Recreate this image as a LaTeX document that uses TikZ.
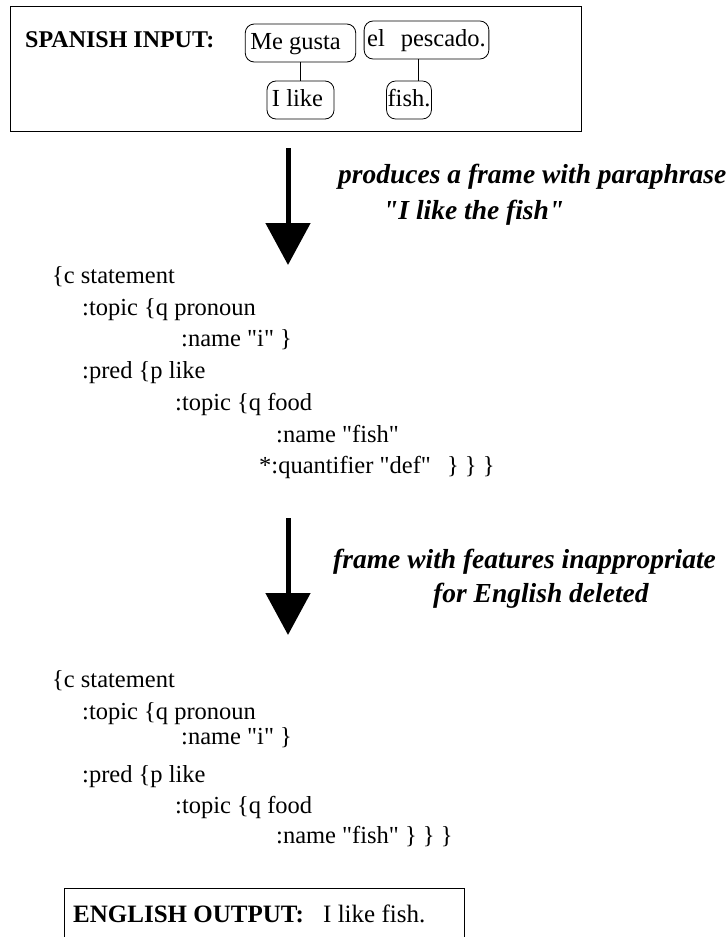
\documentclass[tikz,border=0pt]{standalone}
\usepackage{fontspec}
\setmainfont{Liberation Serif}[Ligatures=TeXOff]
\usepackage{tikz}
\usetikzlibrary{arrows.meta}
\newcommand{\bigfont}{\fontsize{24.5}{32}\selectfont}
\tikzstyle{bigarrow} = [line width=5pt,-{Triangle[width=44pt,length=42pt]}]
\tikzstyle{gloss} = [draw,line width=0.8pt,rounded corners=9pt,inner xsep=2pt,minimum height=38pt,text height=17pt,text depth=5pt]
\tikzstyle{txt} = [anchor=base west,inner sep=0pt]
\tikzstyle{heading} = [txt,font=\fontsize{24}{32}\selectfont\bfseries]
\tikzstyle{comment} = [txt,font=\fontsize{27.5}{36}\selectfont\bfseries\itshape]

\begin{document}
\begin{tikzpicture}[x=1pt,y=-1pt,font=\bigfont]
	\clip (0,0) rectangle (728,937);
	\fill[white] (0,0) rectangle (728,937);

	% Input box:
	\draw[line width=0.8pt] (10,6) rectangle (581,131);
	\node[heading] (spin) at (25,47) {SPANISH INPUT:};
	\node[gloss] (gusta) at (300.5,43) {\kern3pt Me gusta\kern13pt};
	\node[gloss] (pesc) at (426.5,40) {\kern1pt el\kern16pt pescado.\kern1pt};
	\node[gloss] (ilike) at (300.5,100) {\kern3pt I like\kern9pt};
	\node[gloss,inner xsep=1pt] (fish) at (409,100) {fish.};
	\draw[line width=0.8pt] (gusta) -- (ilike);
	\draw[line width=0.8pt] ([xshift=9pt]fish.north) -- ([xshift=9pt]fish.north |- pesc.south);

	% First step:
	\coordinate (a1s) at (288,148);
	\coordinate (a1e) at (288,265);
	\draw[bigarrow] (a1s) -- (a1e);
	\node[comment] (c1a) at (338,183) {produces a frame with paraphrase};
	\node[comment] (c1b) at (383,219) {"I like the fish"};

	% Frame with the quantifier:
	\node[txt] (fa1) at (52,283) {\{c statement};
	\node[txt] (fa2) at (82,315) {:topic \{q pronoun};
	\node[txt] (fa3) at (181,346) {:name "i" \}};
	\node[txt] (fa4) at (82,378) {:pred \{p like};
	\node[txt] (fa5) at (175,410) {:topic \{q food};
	\node[txt] (fa6) at (276,442) {:name "fish"};
	\node[txt] (fa7) at (259,473) {*:quantifier "def"\kern10pt\ \} \} \}};

	% Second step:
	\coordinate (a2s) at (288,518);
	\coordinate (a2e) at (288,635);
	\draw[bigarrow] (a2s) -- (a2e);
	\node[comment] (c2a) at (333,568) {frame with features inappropriate};
	\node[comment] (c2b) at (433,602) {for English deleted};

	% Frame for English:
	\node[txt] (fb1) at (52,687) {\{c statement};
	\node[txt] (fb2) at (82,719) {:topic \{q pronoun};
	\node[txt] (fb3) at (181,744) {:name "i" \}};
	\node[txt] (fb4) at (82,782) {:pred \{p like};
	\node[txt] (fb5) at (175,813) {:topic \{q food};
	\node[txt] (fb6) at (276,843) {:name "fish" \} \} \}};

	% Output box (runs off the bottom):
	\draw[line width=0.8pt] (64,960) -- (64,888) -- (464,888) -- (464,960);
	\node[heading,font=\fontsize{25}{32}\selectfont\bfseries] (engout) at (73,922) {ENGLISH OUTPUT:};
	\node[txt,font=\fontsize{25}{32}\selectfont] (engtxt) at (323,922) {I like fish.};
\end{tikzpicture}
\end{document}
